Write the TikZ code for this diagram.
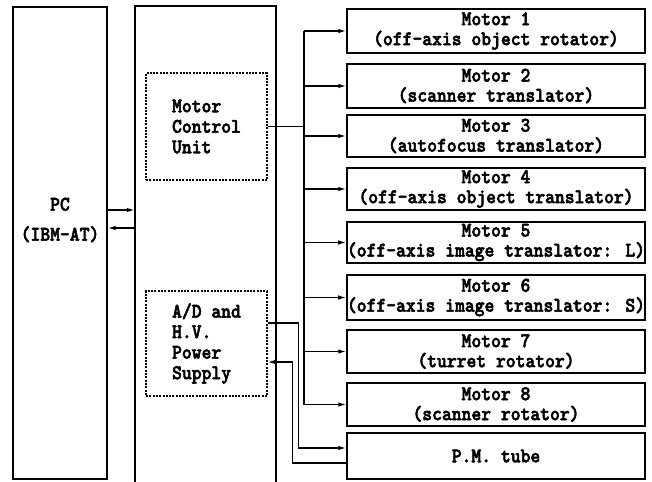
\documentclass[tikz,border=0pt]{standalone}
\usepackage{fontspec}
\newfontfamily\reffont{lmmonolt10-bold.otf}[FakeBold=2.5,FakeStretch=0.9]
\usetikzlibrary{arrows.meta}
\begin{document}
\begin{tikzpicture}[x=1pt,y=-1pt,
  box/.style={draw, line width=1.4pt, rectangle, inner sep=0pt},
  motor/.style={box, minimum width=298pt, font=\reffont\fontsize{20.8}{20}\selectfont, align=center},
  dbox/.style={draw, line width=1.1pt, dash pattern=on 2pt off 1.3pt, rectangle, inner sep=0pt, minimum width=121pt, font=\reffont\fontsize{20.8}{20.5}\selectfont, align=left},
  txt/.style={font=\reffont\fontsize{20.8}{30}\selectfont, align=center},
  ln/.style={line width=1.5pt},
  arr/.style={line width=1.4pt, -{Latex[length=8pt,width=4.5pt]}}]
\useasboundingbox (0,0) rectangle (652,481);
% PC
\node[box, minimum width=94pt, minimum height=472pt] (pc) at (60,243) {};
\node[txt] (pct) at (60,220) {PC\\(IBM-AT)};
% controller
\node[inner sep=0pt, minimum width=141pt, minimum height=476pt] (ctrl) at (205.5,244) {};
\draw[ln] (ctrl.south west) -- (ctrl.north west) -- (ctrl.north east) -- (ctrl.south east);
\node[dbox, minimum height=107pt] (mcu) at (206.5,126.5) {Motor\\Control\\Unit};
\node[dbox, minimum height=105pt] (ad) at (206.5,343.5) {A/D and\\H.V.\\Power\\Supply};
% PC links
\draw[arr] ([yshift=33pt]pc.east) -- ([yshift=33pt]pc.east -| ctrl.west);
\draw[arr] ([yshift=15pt]pc.east -| ctrl.west) -- ([yshift=15pt]pc.east);
% motors
\node[motor, minimum height=44pt] (m1) at (496,31) {Motor 1\\(off-axis object rotator)};
\node[motor, minimum height=44pt] (m2) at (496,86) {Motor 2\\(scanner translator)};
\node[motor, minimum height=42pt] (m3) at (496,136) {Motor 3\\(autofocus translator)};
\node[motor, minimum height=42pt] (m4) at (496,189) {Motor 4\\(off-axis object translator)};
\node[motor, minimum height=41pt] (m5) at (496,242.5) {Motor 5\\(off-axis image translator: L)};
\node[motor, minimum height=45pt] (m6) at (496,297.5) {Motor 6\\(off-axis image translator: S)};
\node[motor, minimum height=43pt] (m7) at (496,351.5) {Motor 7\\(turret rotator)};
\node[motor, minimum height=43pt] (m8) at (496,404.5) {Motor 8\\(scanner rotator)};
\node[motor, minimum height=46pt] (pm) at (496,456) {P.M. tube};
% bus
\coordinate (bus) at (304,0);
\draw[ln] (mcu.east) -- (mcu.east -| bus);
\draw[ln] (bus |- m1.west) -- (bus |- m8.west);
\foreach \m in {m1,m2,m3,m4,m5,m6,m7,m8}
  \draw[arr] (bus |- \m.west) -- (\m.west);
% A/D links
\draw[arr] ([yshift=20.5pt]ad.east) -- ++(31,0) |- ([yshift=8pt]pm.west);
\draw[arr] ([yshift=-7pt]pm.west) -- ++(-54,0) |- ([yshift=-18.5pt]ad.east);
\end{tikzpicture}
\end{document}
